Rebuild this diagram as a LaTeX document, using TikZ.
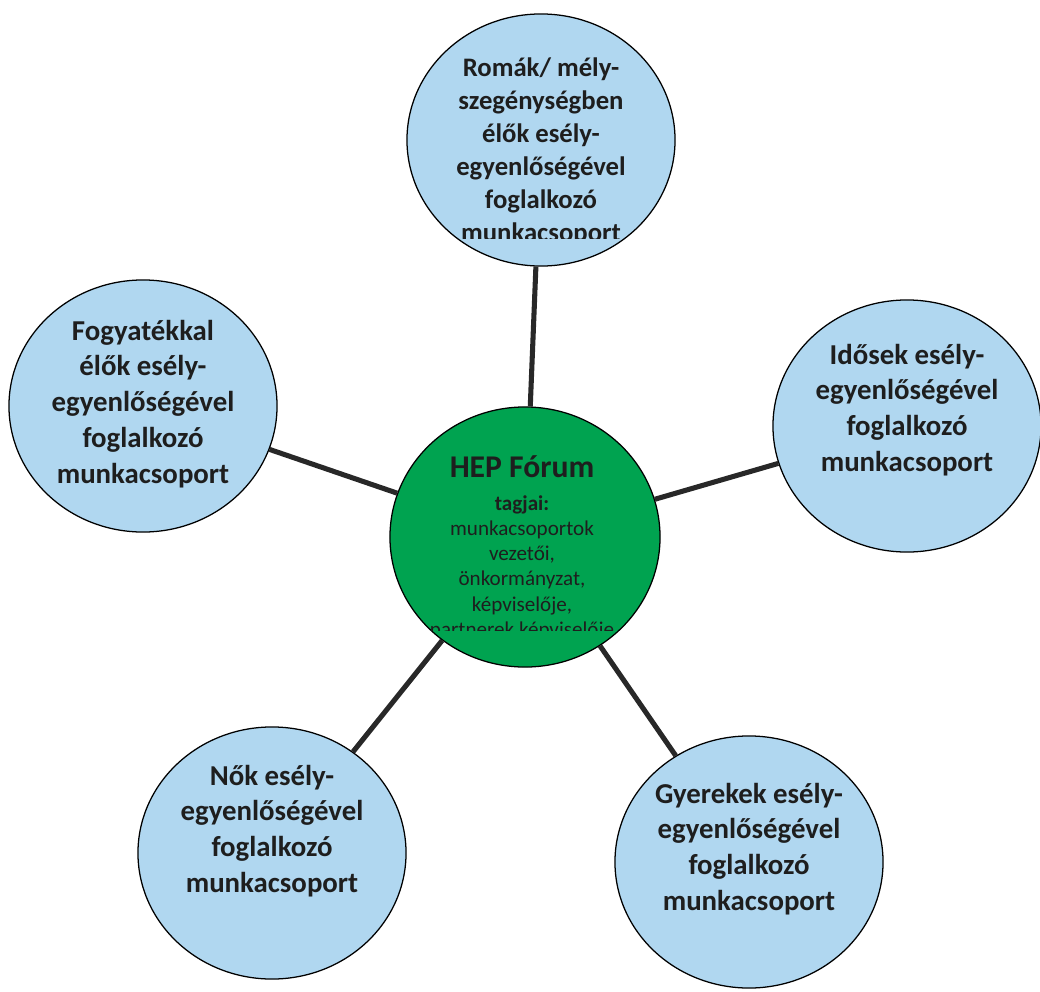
\documentclass[tikz,border=0pt]{standalone}
\usepackage{fontspec}
\setmainfont{Carlito}
\usetikzlibrary{shapes.geometric}
\definecolor{grpblue}{RGB}{176,215,240}
\definecolor{forumgreen}{RGB}{0,163,80}
\definecolor{linkgrey}{RGB}{40,40,40}
\definecolor{inkgrey}{RGB}{30,30,30}
\begin{document}
\begin{tikzpicture}[x=0.025cm,y=-0.025cm,
  grp/.style={ellipse,draw=black,line width=0.9pt,fill=grpblue,minimum width=6.7cm,minimum height=6.3cm,inner sep=0pt},
  grptxt/.style={inner sep=0pt,align=center,text=inkgrey,font=\fontsize{20.5}{25.5}\selectfont\bfseries},
  forum/.style={ellipse,draw=black,line width=0.9pt,fill=forumgreen,minimum width=6.75cm,minimum height=6.5cm,inner sep=0pt},
  forumtxt/.style={inner sep=0pt,align=center,text=inkgrey,font=\fontsize{15}{18}\selectfont},
  link/.style={line width=3.6pt,linkgrey}]
\useasboundingbox (0,0) rectangle (1040,992);
% Central forum
\node[forum] (hep) at (525,537) {};
% Working groups round the forum
\node[grp] (roma) at (541,140) {};
\node[grp] (fogy) at (143,406) {};
\node[grp] (idos) at (907,426) {};
\node[grp] (nok) at (272,853) {};
\node[grp] (gyer) at (749,862) {};
% Links from the forum
\foreach \target in {roma,fogy,idos,nok,gyer} \draw[link] (hep) -- (\target);
% Group texts
\node[grptxt] (fogytxt) at (143,404) {Fogyatékkal\\élők esély-\\egyenlőségével\\foglalkozó\\munkacsoport};
\node[grptxt] (idostxt) at (907,410) {Idősek esély-\\egyenlőségével\\foglalkozó\\munkacsoport};
\node[grptxt] (noktxt) at (272,831) {Nők esély-\\egyenlőségével\\foglalkozó\\munkacsoport};
\node[grptxt] (gyertxt) at (749,849) {Gyerekek esély-\\egyenlőségével\\foglalkozó\\munkacsoport};
% Texts cut off at the bottom, as printed
\begin{scope}
\clip (400,0) rectangle (680,238);
\node[grptxt,font=\fontsize{19}{23.5}\selectfont\bfseries] (romatxt) at (541,152) {Romák/ mély-\\szegénységben\\élők esély-\\egyenlőségével\\foglalkozó\\munkacsoport};
\end{scope}
\begin{scope}
\clip (385,400) rectangle (665,630);
\node[forumtxt] (heptxt) at (522,548) {{\fontsize{22.5}{27}\selectfont\bfseries HEP Fórum}\\[5pt]{\bfseries tagjai:}\\munkacsoportok\\vezetői,\\önkormányzat,\\képviselője,\\partnerek képviselője};
\end{scope}
\end{tikzpicture}
\end{document}
